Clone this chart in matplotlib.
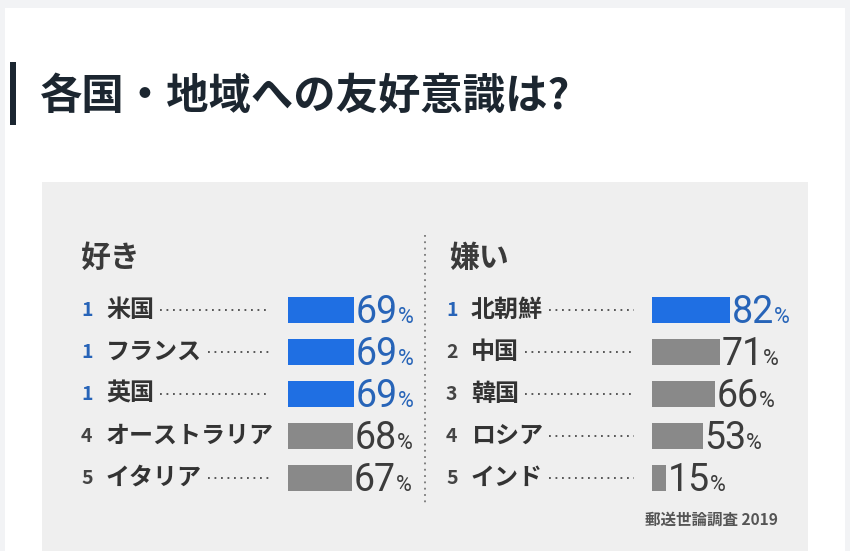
import matplotlib
matplotlib.use("Agg")
import matplotlib.pyplot as plt
from matplotlib.lines import Line2D
from matplotlib.patches import Rectangle
from matplotlib.transforms import blended_transform_factory

plt.rcParams['font.family'] = ['Noto Sans CJK JP', 'DejaVu Sans']

title = "各国・地域への友好意識は?"
source = "郵送世論調査 2019"

like_header = "好き"
like_ranks = ["1", "1", "1", "4", "5"]
like_names = ["米国", "フランス", "英国", "オーストラリア", "イタリア"]
like_values = [69, 69, 69, 68, 67]

dislike_header = "嫌い"
dislike_ranks = ["1", "2", "3", "4", "5"]
dislike_names = ["北朝鮮", "中国", "韓国", "ロシア", "インド"]
dislike_values = [82, 71, 66, 53, 15]

W, H = 850, 551
BLUE = "#1f6fe3"
GRAY = "#898989"
BLUE_TXT = "#2764b8"
DARK = "#333333"


def fx(px):
    return px / W


def fy(py):
    return 1 - py / H


fig = plt.figure(figsize=(W / 100, H / 100), dpi=100)
fig.patch.set_facecolor("#f2f3f5")

# white card, gray panel, title marker (kept behind the axes)
fig.add_artist(Rectangle((fx(5), 0), fx(840), fy(8), transform=fig.transFigure,
                         facecolor="white", edgecolor="none", zorder=-10))
fig.add_artist(Rectangle((fx(42), 0), fx(766), fy(182), transform=fig.transFigure,
                         facecolor="#efefef", edgecolor="none", zorder=-9))
fig.add_artist(Rectangle((fx(10), fy(125)), fx(6), 63 / H, transform=fig.transFigure,
                         facecolor="#1b2631", edgecolor="none", zorder=-9))

fig.text(fx(40), fy(97), title, fontsize=30.5, fontweight="bold", color="#1c2630",
         va="center", ha="left")

# dotted divider
fig.add_artist(Line2D([fx(425), fx(425)], [fy(235), fy(505)], transform=fig.transFigure,
                      color="#777777", lw=1.3, linestyle=(0, (1, 2.5))))

fig.text(fx(778), fy(520), source, fontsize=11.2, fontweight="bold", color="#555555",
         ha="right", va="center")

leaders = []


def draw_panel(header, ranks, names, values, bar_x, rank_x, name_x, dots_end, header_x):
    ax = fig.add_axes([fx(bar_x), fy(499), 95.5 / W, 210 / H])
    ax.set_xlim(0, 100)
    ax.set_ylim(4.5, -0.5)
    ax.axis("off")
    ypos = list(range(len(values)))
    top = max(values)
    colors = [BLUE if v == top else GRAY for v in values]
    ax.barh(ypos, values, height=0.62, color=colors)

    tr = blended_transform_factory(fig.transFigure, ax.transData)
    fig.text(fx(header_x), fy(258), header, fontsize=21.5, fontweight="bold",
             color="#3a3a3a", va="center", ha="left")
    for i, (r, n, v) in enumerate(zip(ranks, names, values)):
        rc = BLUE_TXT if r == "1" else "#444444"
        ax.text(fx(rank_x), i, r, transform=tr, fontsize=14, fontweight="bold",
                color=rc, va="center", ha="left", clip_on=False)
        t = ax.text(fx(name_x), i, n, transform=tr, fontsize=17.3, fontweight="bold",
                    color=DARK, va="center", ha="left", clip_on=False)
        leaders.append((t, i, tr, dots_end))
        tc = BLUE_TXT if v == top else "#3c3c3c"
        num = ax.text(v + 1.5, i + 0.32, str(v), fontsize=27, family="Roboto",
                      fontweight="normal", color=tc, va="baseline", ha="left",
                      clip_on=False)
        ax.annotate("%", xy=(1, i + 0.32), xycoords=(num, "data"),
                    xytext=(0, 0), textcoords="offset points",
                    fontsize=15.5, family="Roboto", fontweight="normal", color=tc,
                    va="baseline", ha="left", annotation_clip=False)


draw_panel(like_header, like_ranks, like_names, like_values,
           bar_x=288, rank_x=81, name_x=106, dots_end=270, header_x=81)
draw_panel(dislike_header, dislike_ranks, dislike_names, dislike_values,
           bar_x=652, rank_x=446, name_x=471, dots_end=634, header_x=449)

# dotted leaders from each name to the bar column
fig.canvas.draw()
renderer = fig.canvas.get_renderer()
for t, i, tr, end in leaders:
    x1 = t.get_window_extent(renderer).x1
    start = x1 + 6
    if start < end - 4:
        fig.add_artist(Line2D([fx(start), fx(end)], [i, i], transform=tr,
                              color="#4a4a4a", lw=1.3, linestyle=(0, (1, 2.6))))

fig.savefig("out.png", dpi=100, facecolor=fig.get_facecolor())
